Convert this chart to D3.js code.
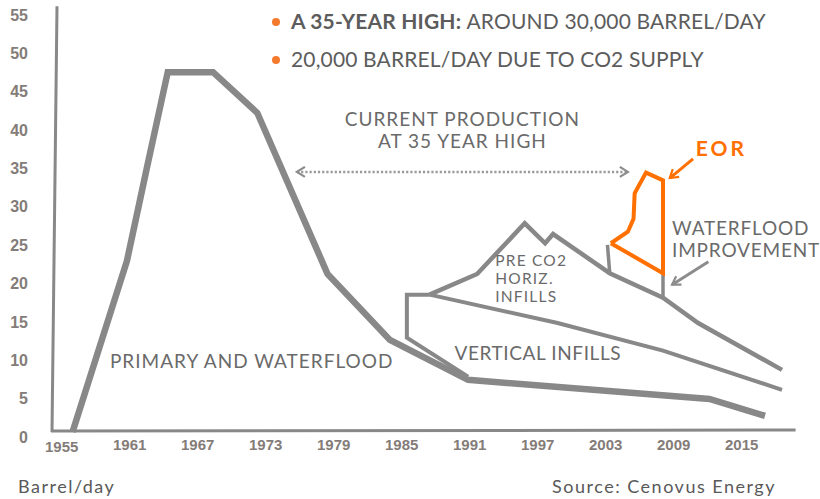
<!DOCTYPE html>
<html>
<head>
<meta charset="utf-8">
<script src="https://cdn.jsdelivr.net/npm/d3@7"></script>
<style>
  body { margin: 0; background: #fff; }
  svg text { font-family: Lato, "Open Sans", sans-serif; }
</style>
</head>
<body>
<div id="chart"></div>
<script>
// tick labels
const yearTicks = [1955, 1961, 1967, 1973, 1979, 1985, 1991, 1997, 2003, 2009, 2015];
const valueTicks = [0, 5, 10, 15, 20, 25, 30, 35, 40, 45, 50, 55];

// production outlines, [year, thousand barrel/day]
const primary = [[1956.0, 0], [1960.8, 22.3], [1962.6, 34.7], [1964.4, 46.9], [1968.4, 46.9],
    [1972.3, 41.6], [1978.5, 20.6], [1984.0, 12.0], [1990.9, 6.8], [2012.2, 4.3], [2017.1, 2.1]];
const verticalEdge = [[1987.5, 17.9], [1985.5, 17.9], [1985.5, 12.3], [1990.9, 7.2]];
const verticalInfills = [[1987.5, 17.9], [1998.8, 14.2], [2008.1, 10.6], [2018.6, 5.5]];
const horizontalInfills = [[1987.5, 17.9], [1991.7, 20.6], [1995.9, 27.2], [1997.7, 24.6], [1998.4, 25.8],
    [2003.4, 20.7], [2008.1, 17.5], [2011.2, 14.2], [2018.6, 8.1]];
const waterfloodLeft = [[2003.2, 24.4], [2003.4, 20.7]];
const waterfloodRight = [[2008.1, 20.7], [2008.1, 17.5]];
const eor = [[2003.5, 24.6], [2005.0, 26.1], [2005.5, 27.8], [2005.6, 31.1], [2006.6, 33.8],
    [2008.1, 32.8], [2008.1, 20.7], [2003.5, 24.6]];

// annotations
const labels = [
    { lines: ["PRIMARY AND WATERFLOOD"], at: [1959.3, 9.25], anchor: "start" },
    { lines: ["VERTICAL INFILLS"], at: [1989.7, 10.2], anchor: "start", spacing: 0.6 },
    { lines: ["PRE CO2", "HORIZ.", "INFILLS"], at: [1993.3, 22.3], anchor: "start", size: 15.5, lh: 18, spacing: 1.2 },
    { lines: ["WATERFLOOD", "IMPROVEMENT"], at: [2008.9, 26.5], anchor: "start", lh: 22, spacing: 0.8 },
    { lines: ["CURRENT PRODUCTION", "AT 35 YEAR HIGH"], at: [1990.4, 40.7], anchor: "middle", lh: 22 }
];
const legendItems = [
    { bold: "A 35-YEAR HIGH: ", rest: "AROUND 30,000 BARREL/DAY" },
    { bold: "", rest: "20,000 BARREL/DAY DUE TO CO2 SUPPLY" }
];

const width = 820;
const height = 499;
const grey = "#888888";
const orange = "#ff7000";
const tickFont = "'Liberation Sans', Arial, sans-serif";

const x = d3.scaleLinear().domain([1955, 2015]).range([61.2, 741.2]);
const y = d3.scaleLinear().domain([0, 55]).range([432, 10]);

const svg = d3.select("#chart").append("svg")
    .attr("width", width)
    .attr("height", height)
    .attr("viewBox", [0, 0, width, height]);

const defs = svg.append("defs");
function chevron(id, color) {
    defs.append("marker")
        .attr("id", id)
        .attr("viewBox", "-10 -6 12 12")
        .attr("markerWidth", 12)
        .attr("markerHeight", 12)
        .attr("markerUnits", "userSpaceOnUse")
        .attr("orient", "auto-start-reverse")
        .append("path")
        .attr("d", "M-8,-5 L0,0 L-8,5")
        .attr("fill", "none")
        .attr("stroke", color)
        .attr("stroke-width", 2.2);
}
chevron("arrowGrey", "#8c8c8c");
chevron("arrowOrange", orange);

// axes
const axisX = 54;
svg.append("line")
    .attr("x1", axisX + 3).attr("y1", y(55.5))
    .attr("x2", axisX - 2).attr("y2", y(0))
    .attr("stroke", grey).attr("stroke-width", 3);
svg.append("line")
    .attr("x1", axisX - 3).attr("y1", y(0) - 1)
    .attr("x2", x(2019.8)).attr("y2", y(0) - 2)
    .attr("stroke", grey).attr("stroke-width", 3);

svg.append("g")
    .attr("transform", "translate(28,5)")
    .call(d3.axisLeft(y).tickValues(valueTicks).tickSize(0).tickPadding(0))
    .call(g => g.select(".domain").remove())
    .call(g => g.selectAll("text")
        .attr("fill", "#847c78")
        .style("font-family", tickFont)
        .style("font-weight", "bold")
        .style("font-size", "16px"));

svg.append("g")
    .attr("transform", `translate(0,${y(0) + 7})`)
    .call(d3.axisBottom(x).tickValues(yearTicks).tickSize(0).tickPadding(0).tickFormat(d3.format("d")))
    .call(g => g.select(".domain").remove())
    .call(g => g.selectAll("text")
        .attr("fill", "#847c78")
        .style("font-family", tickFont)
        .style("font-weight", "bold")
        .style("font-size", "15px")
        .attr("dy", (d, i) => i === 0 ? "0.85em" : "0.7em"));

const line = d3.line()
    .x(d => x(d[0]))
    .y(d => y(d[1]));

const outlines = [
    { data: verticalInfills, w: 4 },
    { data: verticalEdge, w: 4 },
    { data: horizontalInfills, w: 4.5 },
    { data: waterfloodLeft, w: 3.5 },
    { data: waterfloodRight, w: 3.5 },
    { data: primary, w: 6.5 }
];

svg.append("g")
    .selectAll("path")
    .data(outlines)
    .join("path")
    .attr("fill", "none")
    .attr("stroke", grey)
    .attr("stroke-width", d => d.w)
    .attr("stroke-linejoin", "miter")
    .attr("d", d => line(d.data));

svg.append("path")
    .attr("fill", "none")
    .attr("stroke", orange)
    .attr("stroke-width", 4)
    .attr("stroke-linejoin", "miter")
    .attr("d", line(eor));

// arrows
svg.append("line")
    .attr("x1", x(1975.8)).attr("y1", y(33.9))
    .attr("x2", x(2005.0)).attr("y2", y(33.9))
    .attr("stroke", "#9a9a9a")
    .attr("stroke-width", 2.5)
    .attr("stroke-dasharray", "2.2,2")
    .attr("marker-start", "url(#arrowGrey)")
    .attr("marker-end", "url(#arrowGrey)");

svg.append("line")
    .attr("x1", x(2010.75)).attr("y1", y(35.6))
    .attr("x2", x(2008.7)).attr("y2", y(33.1))
    .attr("stroke", orange)
    .attr("stroke-width", 3)
    .attr("marker-end", "url(#arrowOrange)");

svg.append("line")
    .attr("x1", x(2012.1)).attr("y1", y(22.2))
    .attr("x2", x(2008.9)).attr("y2", y(19.2))
    .attr("stroke", "#8c8c8c")
    .attr("stroke-width", 3)
    .attr("marker-end", "url(#arrowGrey)");

svg.append("text")
    .attr("x", x(2011.0))
    .attr("y", y(37.1))
    .attr("dominant-baseline", "central")
    .attr("fill", orange)
    .attr("font-weight", "bold")
    .attr("font-size", "21px")
    .attr("letter-spacing", "3px")
    .text("EOR");

// region labels
const label = svg.append("g")
    .selectAll("text")
    .data(labels)
    .join("text")
    .attr("fill", "#6a6a6a")
    .attr("font-size", d => (d.size || 19) + "px")
    .attr("letter-spacing", d => (d.spacing ?? 1) + "px")
    .attr("text-anchor", d => d.anchor)
    .attr("x", d => x(d.at[0]))
    .attr("y", d => y(d.at[1]));

label.selectAll("tspan")
    .data(d => d.lines.map((t, i) => ({ t, i, lh: d.lh || 0, x: x(d.at[0]) })))
    .join("tspan")
    .attr("x", d => d.x)
    .attr("dy", d => d.i === 0 ? "0.35em" : d.lh)
    .text(d => d.t);

// legend
const legend = svg.append("g")
    .selectAll("g")
    .data(legendItems)
    .join("g")
    .attr("transform", (d, i) => `translate(276,${22 + i * 38})`);

legend.append("circle")
    .attr("r", 4)
    .attr("fill", "#f47a2e");

const legendText = legend.append("text")
    .attr("x", 15)
    .attr("dy", "0.35em")
    .attr("fill", "#5c5c5c")
    .attr("font-size", "21px")
    .attr("letter-spacing", "0.15px");
legendText.append("tspan")
    .attr("font-weight", "bold")
    .text(d => d.bold);
legendText.append("tspan")
    .text(d => d.rest);

// footer
svg.append("text")
    .attr("x", 18)
    .attr("y", 487)
    .attr("dy", "0.35em")
    .attr("fill", "#595959")
    .attr("font-size", "18px")
    .attr("letter-spacing", "1.5px")
    .text("Barrel/day");

svg.append("text")
    .attr("x", 776)
    .attr("y", 487)
    .attr("dy", "0.35em")
    .attr("text-anchor", "end")
    .attr("fill", "#595959")
    .attr("font-size", "18px")
    .attr("letter-spacing", "1.5px")
    .text("Source: Cenovus Energy");
</script>
</body>
</html>
